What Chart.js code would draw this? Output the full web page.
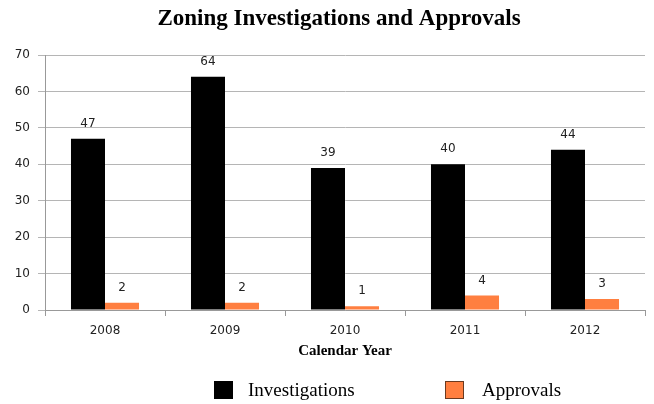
<!DOCTYPE html>
<html>
<head>
<meta charset="utf-8">
<script src="https://cdn.jsdelivr.net/npm/chart.js@4/dist/chart.umd.min.js"></script>
<style>
  html, body { margin: 0; padding: 0; background: #fff; }
  #wrap { width: 654px; height: 404px; }
</style>
</head>
<body>
<div id="wrap"><canvas id="chart"></canvas></div>
<script>
const years = ['2008', '2009', '2010', '2011', '2012'];
const investigations = [47, 64, 39, 40, 44];
const approvals = [2, 2, 1, 4, 3];
const yTicks = [0, 10, 20, 30, 40, 50, 60, 70];
const titleText = 'Zoning Investigations and Approvals';

// numbers above each bar
const valueLabels = {
  id: 'valueLabels',
  afterDatasetsDraw(chart) {
    const ctx = chart.ctx;
    ctx.save();
    ctx.font = '12px "DejaVu Sans"';
    ctx.fillStyle = '#222';
    ctx.textAlign = 'center';
    ctx.textBaseline = 'bottom';
    chart.data.datasets.forEach((ds, i) => {
      chart.getDatasetMeta(i).data.forEach((bar, j) => {
        ctx.fillText(ds.data[j], bar.x, bar.y - 9);
      });
    });
    ctx.restore();
  }
};

// title and legend drawn by hand so they sit where the original has them
const titleAndLegend = {
  id: 'titleAndLegend',
  afterDraw(chart) {
    const ctx = chart.ctx;
    ctx.save();
    ctx.fillStyle = '#000';
    ctx.textAlign = 'center';
    ctx.textBaseline = 'alphabetic';
    ctx.font = 'bold 23px "Liberation Serif"';
    ctx.fillText(titleText, 339, 25);

    const items = [
      { x: 214, textX: 248 },
      { x: 445, textX: 482 },
    ];
    ctx.font = '19px "Liberation Serif"';
    ctx.textAlign = 'left';
    ctx.textBaseline = 'middle';
    chart.data.datasets.forEach((ds, i) => {
      const it = items[i];
      ctx.fillStyle = ds.backgroundColor;
      ctx.fillRect(it.x, 381, 19, 18);
      ctx.strokeStyle = ds.legendBorder;
      ctx.lineWidth = 1;
      ctx.strokeRect(it.x + 0.5, 381.5, 18, 17);
      ctx.fillStyle = '#000';
      ctx.fillText(ds.label, it.textX, 391);
    });
    ctx.restore();
  }
};

const ctx = document.getElementById('chart').getContext('2d');
new Chart(ctx, {
  type: 'bar',
  data: {
    labels: years,
    datasets: [
      {
        label: 'Investigations',
        data: investigations,
        backgroundColor: '#000000',
        legendBorder: '#000000',
        borderWidth: 0,
      },
      {
        label: 'Approvals',
        data: approvals,
        backgroundColor: '#ff7f40',
        legendBorder: '#6b3a20',
        borderWidth: 0,
      },
    ],
  },
  options: {
    responsive: true,
    maintainAspectRatio: false,
    animation: false,
    layout: { padding: { left: 0, right: 9, top: 55, bottom: 44 } },
    datasets: {
      bar: { categoryPercentage: 0.567, barPercentage: 1.0 },
    },
    plugins: {
      title: { display: false },
      legend: { display: false },
      tooltip: { enabled: false },
    },
    scales: {
      x: {
        afterFit(scale) { scale.height = 50; },
        grid: {
          drawOnChartArea: false,
          color: '#999',
          tickLength: 6,
          offset: true,
        },
        border: { color: '#999' },
        ticks: {
          color: '#222',
          font: { family: '"DejaVu Sans"', size: 12 },
          padding: 8,
        },
        title: {
          display: true,
          text: 'Calendar Year',
          color: '#000',
          font: { family: '"Liberation Serif"', size: 15, weight: 'bold' },
          padding: { top: 4, bottom: 0 },
        },
      },
      y: {
        min: 0,
        max: 70,
        afterBuildTicks(scale) {
          scale.ticks = yTicks.map(v => ({ value: v }));
        },
        afterFit(scale) { scale.width = 45; },
        grid: { color: '#b5b5b5', tickLength: 7 },
        border: { color: '#999' },
        ticks: {
          color: '#222',
          font: { family: '"DejaVu Sans"', size: 12 },
          padding: 8,
        },
      },
    },
  },
  plugins: [valueLabels, titleAndLegend],
});
</script>
</body>
</html>
